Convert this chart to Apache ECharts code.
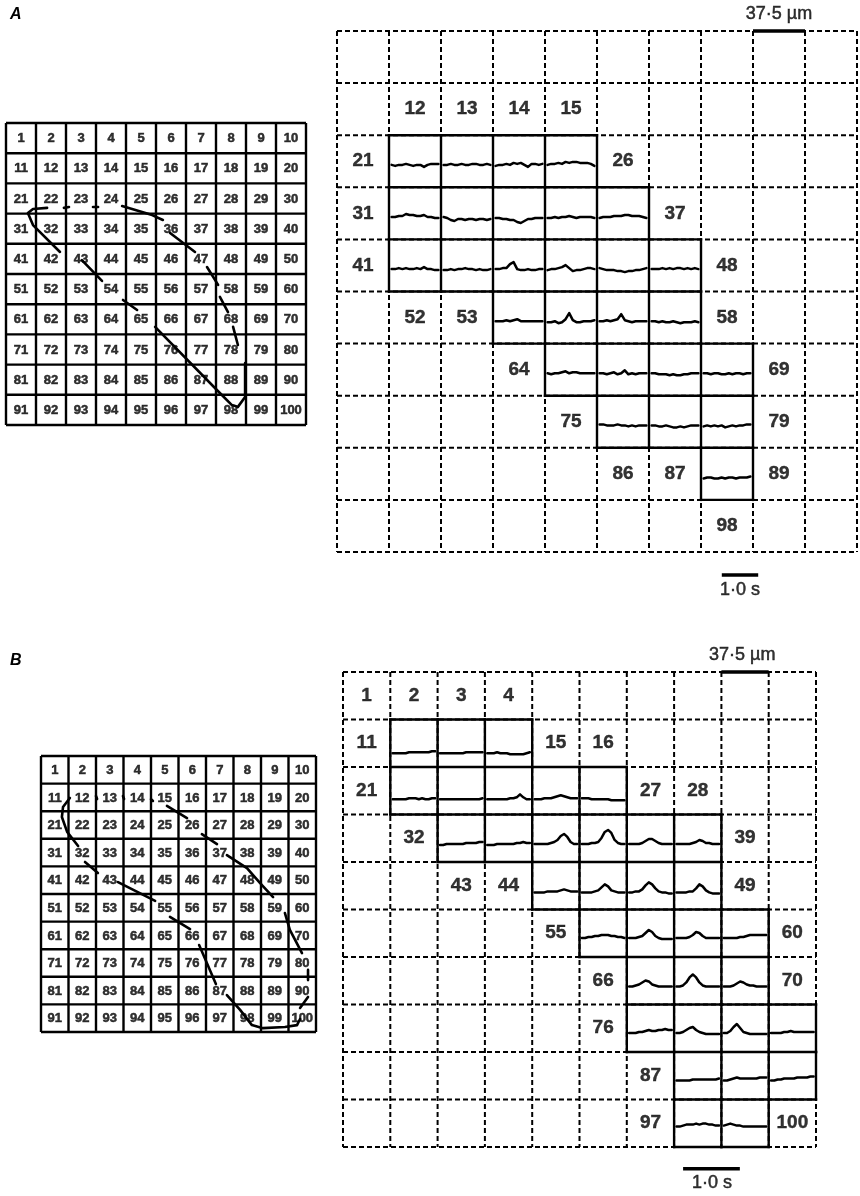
<!DOCTYPE html>
<html><head><meta charset="utf-8">
<script src="https://cdn.jsdelivr.net/npm/echarts@6/dist/echarts.min.js"></script>
<style>html,body{margin:0;padding:0;background:#fff}#c{width:860px;height:1196px}</style>
</head><body><div id="c"></div>
<script>
// ---------------- DATA ----------------
// labels printed inside the dashed recording grids
const A_LABELS = [12,13,14,15,21,26,31,37,41,48,52,53,58,64,69,75,79,86,87,89,98];
const B_LABELS = [1,2,3,4,11,15,16,21,27,28,32,39,43,44,49,55,60,66,70,76,87,97,100];

// traces (electrode number -> deflection samples, up = positive, ~px)
const A_TRACES = {
  22:[0,-1,0,0,1,0,-1,0,0,-2,0,1,1,1],
  23:[0,0,1,0,0,1,0,0,1,1,0,0,1,0],
  24:[-1,0,0,1,0,2,1,2,0,-2,1,1,0,1],
  25:[0,1,1,2,1,3,2,3,3,2,2,2,1,-1],
  32:[0,0,1,1,3,2,2,1,1,2,0,0,-1,-1],
  33:[0,-1,-3,-4,-2,-2,-3,-2,-2,-3,-2,-2,-3,-2],
  34:[-1,-1,-2,-2,-3,-3,-5,-6,-4,-2,-2,-1,-1,-1],
  35:[-1,-1,0,-1,0,0,1,0,-1,0,0,0,0,-1],
  36:[-1,0,0,0,1,1,1,2,2,1,1,1,0,-1],
  42:[0,0,1,0,1,0,0,1,0,2,0,0,-1,-1],
  43:[-1,-1,0,-1,0,0,1,0,0,-1,0,-1,-1,0],
  44:[0,0,1,1,5,7,0,-1,-1,0,-1,-1,0,0],
  45:[-1,0,0,1,2,4,1,-2,-1,-1,0,1,1,0],
  46:[1,0,-1,-1,-1,-2,-2,-3,-2,-2,-1,-1,0,1],
  47:[0,0,0,1,0,1,0,1,1,0,1,0,1,0],
  54:[0,0,0,1,0,1,2,0,0,0,0,0,0,0],
  55:[-1,-1,0,-2,-1,2,8,1,-1,-1,0,0,0,1],
  56:[0,0,1,0,1,2,7,1,0,-1,0,0,0,0],
  57:[0,0,-1,0,-1,-1,0,-1,-2,-1,-1,-1,0,-1],
  65:[0,-1,0,0,1,2,0,1,1,0,0,0,0,0],
  66:[0,0,-1,0,1,-1,0,3,-1,0,-1,0,0,0],
  67:[0,0,-1,-1,-1,-2,-1,-2,-2,-1,-1,0,0,0],
  68:[0,0,-1,0,0,-1,-1,0,-1,0,0,-1,0,0],
  76:[1,1,0,0,0,1,0,0,-1,0,-1,0,0,0],
  77:[0,0,-1,-1,0,-1,-2,-2,-1,-2,-1,0,0,0],
  78:[-1,0,-1,0,-1,0,-2,-1,0,-1,0,0,1,1],
  88:[-1,0,0,-1,-1,0,-1,0,0,-1,0,0,0,1]
};
const B_TRACES = {
  12:[0,0,0,0,0,1,1,1,1,1,1,1,2,2],
  13:[0,0,0,0,0,0,0,0,1,1,1,1,1,1],
  14:[0,0,0,1,0,0,0,-1,-1,-1,-1,-1,0,1],
  22:[0,0,0,0,0,1,1,1,0,1,0,0,1,1],
  23:[0,0,0,0,0,0,0,0,0,0,0,0,0,1],
  24:[0,0,0,0,0,0,0,1,1,2,5,2,0,0],
  25:[0,0,0,1,1,1,2,3,4,3,2,1,1,1],
  26:[1,1,1,0,0,0,0,0,0,-1,-1,-1,-1,-1],
  33:[-1,-1,0,0,0,0,0,0,1,1,1,1,2,2],
  34:[-1,-1,-1,0,0,0,0,0,0,1,1,2,1,1],
  35:[0,0,0,0,0,1,2,4,8,10,7,2,0,0],
  36:[0,0,0,1,1,2,6,12,14,11,4,1,0,0],
  37:[0,0,0,0,1,3,5,5,3,1,0,0,0,0],
  38:[0,0,0,0,0,1,2,4,3,1,1,0,0,0],
  45:[0,0,0,0,1,1,1,1,2,3,2,1,1,1],
  46:[0,0,0,0,1,2,5,8,6,2,1,0,0,0],
  47:[0,0,1,1,3,7,10,8,4,1,0,0,-1,-1],
  48:[0,0,0,0,1,1,4,8,6,2,0,-1,-1,-1],
  56:[0,0,1,1,2,2,3,3,3,2,2,1,1,0],
  57:[0,0,0,1,2,5,8,6,2,0,-1,-1,-1,-1],
  58:[0,0,0,0,1,3,6,5,2,0,0,0,0,0],
  59:[0,0,0,0,0,1,1,2,3,3,3,3,3,3],
  67:[0,0,1,2,4,6,5,2,1,0,0,0,0,0],
  68:[0,0,1,4,9,12,9,4,1,0,0,0,0,0],
  69:[0,0,0,1,3,5,4,2,1,1,0,0,0,0],
  77:[0,0,0,1,1,2,3,2,2,3,3,4,3,3],
  78:[0,0,1,3,5,6,3,1,0,-1,-1,-1,-1,-1],
  79:[0,0,2,6,9,5,1,0,-1,-1,-1,-1,-1,-1],
  80:[0,0,0,0,1,1,2,1,1,1,1,1,1,1],
  88:[0,0,0,0,0,1,1,1,1,1,1,1,1,2],
  89:[0,0,1,2,3,2,2,2,2,2,2,3,3,3],
  90:[0,0,1,1,2,2,2,2,3,3,3,3,4,4],
  98:[0,0,1,2,2,2,3,2,3,3,2,2,1,1],
  99:[1,2,3,2,1,1,0,0,0,0,0,0,0,0]
};

// activation contour drawn on the electrode maps (cell units)
const A_CONTOUR = [
  [[1.80,4.27],[0.90,3.38],[0.73,2.98],[0.90,2.85],[1.37,2.81]],
  [[1.93,2.81],[2.10,2.78]],
  [[2.90,2.78],[3.07,2.78]],
  [[3.87,2.75],[4.87,3.05],[5.23,3.21]],
  [[5.47,3.64],[6.30,4.27]],
  [[6.70,4.77],[7.07,5.36]],
  [[7.13,5.76],[7.40,6.26]],
  [[7.57,6.75],[7.73,7.35]],
  [[7.97,7.95],[7.97,9.07],[7.73,9.40],[7.53,9.34],[7.03,8.84],[4.97,6.75]],
  [[2.53,4.54],[3.20,5.23]],
  [[3.90,5.86],[4.37,6.19]]
];
const B_CONTOUR = [
  [[1.05,1.52],[0.80,1.85],[0.76,2.21],[0.95,2.75],[1.35,3.26]],
  [[2.00,1.45],[2.04,1.56]],
  [[2.98,1.45],[3.02,1.56]],
  [[4.00,1.56],[4.07,1.63]],
  [[4.58,1.81],[5.31,2.25]],
  [[5.85,2.83],[6.40,3.19]],
  [[6.76,3.59],[7.49,4.06],[7.96,4.60],[8.44,5.11]],
  [[1.60,3.84],[2.07,4.24]],
  [[2.80,4.57],[4.15,5.25]],
  [[4.69,5.83],[5.42,6.27]],
  [[5.75,6.85],[6.36,8.26]],
  [[8.87,5.69],[9.05,6.30],[9.49,7.14]],
  [[9.71,7.75],[9.71,8.12]],
  [[9.71,8.73],[9.42,9.13]],
  [[6.76,8.66],[7.24,9.20],[7.67,9.75],[8.07,9.86],[8.87,9.82],[9.31,9.75],[9.42,9.53]]
];

const SCALE_TEXT_UM = '37·5 µm';
const SCALE_TEXT_S = '1·0 s';

// ---------------- LAYOUT ----------------
const FONT = "'Liberation Sans', Arial, Helvetica, sans-serif";
const grids = [
  {left:6,   top:123, width:300, height:302},  // A map
  {left:337, top:31,  width:520, height:521},  // A recordings
  {left:41,  top:756, width:275, height:276},  // B map
  {left:343, top:672, width:473, height:475}   // B recordings
];
const A_BASE = 0.57, A_PX = 52;
const B_BASE = [0,0.71,0.68,0.62,0.64,0.6,0.62,0.6,0.6,0.57], B_PX = 47.5;

const series = [];
function rc(n){ return [Math.floor((n-1)/10), (n-1)%10]; }
function addLines(gi, list, style, z){
  series.push({type:'lines', coordinateSystem:'cartesian2d', xAxisIndex:gi, yAxisIndex:gi,
    polyline:true, silent:true, z:z, clip:false, animation:false,
    lineStyle:Object.assign({color:'#000', opacity:1, curveness:0}, style),
    data:list.map(c=>({coords:c}))});
}
function addTexts(gi, items, font, z){
  series.push({type:'scatter', xAxisIndex:gi, yAxisIndex:gi, symbolSize:1, silent:true, clip:false, z:z,
    itemStyle:{color:'rgba(0,0,0,0)'}, animation:false, data:items,
    label:Object.assign({show:true, position:'inside', formatter:p=>p.data[2], color:'#000', fontFamily:FONT}, font)});
}
function gridLines(){
  const out = [];
  for(let k=0;k<=10;k++){ out.push([[k,0],[k,10]]); out.push([[0,k],[10,k]]); }
  return out;
}
function mapPanel(gi, contour){
  addLines(gi, gridLines(), {width:2.4}, 2);
  const nums = [];
  for(let n=1;n<=100;n++){ const [r,c]=rc(n); nums.push([c+0.5, r+0.52, String(n)]); }
  addTexts(gi, nums, {fontSize:13, fontWeight:'bold', textBorderColor:'#000', textBorderWidth:0.5}, 4);
  addLines(gi, contour, {width:2.6, cap:'round', join:'round'}, 5);
}
function recPanel(gi, labels, traces, baseFn, px){
  addLines(gi, gridLines(), {width:2, type:[5,3]}, 1);
  const edges = new Map();
  const tr = [];
  Object.keys(traces).forEach(k=>{
    const n = +k, [r,c] = rc(n), v = traces[k];
    [[[c,r],[c+1,r]],[[c,r+1],[c+1,r+1]],[[c,r],[c,r+1]],[[c+1,r],[c+1,r+1]]].forEach(e=>{
      edges.set(JSON.stringify(e), e);
    });
    const b = baseFn(r);
    tr.push(v.map((y,i)=>[c+0.05+0.9*i/(v.length-1), r+b-y/px]));
  });
  addLines(gi, Array.from(edges.values()), {width:2.4, cap:'square'}, 2);
  addLines(gi, tr, {width:2.5, join:'round', cap:'round'}, 3);
  addTexts(gi, labels.map(n=>{const [r,c]=rc(n); return [c+0.5, r+0.5, String(n)];}),
    {fontSize:19, fontWeight:'bold', textBorderColor:'#000', textBorderWidth:0.4}, 4);
}

mapPanel(0, A_CONTOUR);
recPanel(1, A_LABELS, A_TRACES, r=>A_BASE, A_PX);
mapPanel(2, B_CONTOUR);
recPanel(3, B_LABELS, B_TRACES, r=>B_BASE[r], B_PX);

// scale bars
addLines(1, [[[8,0],[9,0]], [[7.40,10.44],[8.10,10.44]]], {width:3.5}, 6);
addTexts(1, [[8.5,-0.33,SCALE_TEXT_UM],[7.75,10.73,SCALE_TEXT_S]], {fontSize:18, textBorderColor:'#000', textBorderWidth:0.5}, 6);
addLines(3, [[[8,0],[9,0]], [[7.19,10.46],[8.39,10.46]]], {width:3.5}, 6);
addTexts(3, [[8.44,-0.36,SCALE_TEXT_UM],[7.8,10.76,SCALE_TEXT_S]], {fontSize:18, textBorderColor:'#000', textBorderWidth:0.5}, 6);

const chart = echarts.init(document.getElementById('c'), null, {renderer:'canvas'});
chart.setOption({
  animation:false,
  backgroundColor:'#fff',
  title:[
    {text:'A', left:10, top:7, padding:0, textStyle:{fontStyle:'italic', fontWeight:'bold', fontSize:16, fontFamily:FONT, color:'#000'}},
    {text:'B', left:10, top:653, padding:0, textStyle:{fontStyle:'italic', fontWeight:'bold', fontSize:16, fontFamily:FONT, color:'#000'}}
  ],
  grid:grids,
  xAxis:grids.map((g,i)=>({gridIndex:i, type:'value', min:0, max:10, show:false})),
  yAxis:grids.map((g,i)=>({gridIndex:i, type:'value', min:0, max:10, inverse:true, show:false})),
  series:series
});
</script>
</body></html>
